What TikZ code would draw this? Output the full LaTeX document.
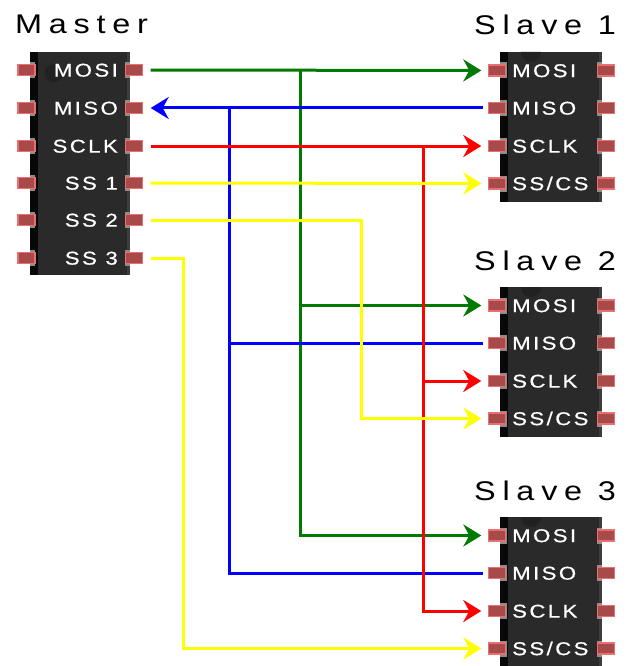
\documentclass[tikz,border=0pt]{standalone}
\usepackage{fontspec}
\setmainfont{Liberation Sans}
\newfontfamily\titlefont[FakeStretch=1.2, LetterSpace=25]{Liberation Sans}
\newfontfamily\pinfont[FakeStretch=1.2, FakeBold=0.6, LetterSpace=13]{Liberation Sans}
\usetikzlibrary{arrows.meta,positioning,calc}

\definecolor{chipbody}{RGB}{42,42,42}
\definecolor{chipedge}{RGB}{8,8,8}
\definecolor{chipshine}{RGB}{60,60,60}
\definecolor{chipnotch}{RGB}{33,33,33}
\definecolor{padfill}{RGB}{168,74,74}
\definecolor{padrim}{RGB}{232,112,112}
\definecolor{pinleg}{RGB}{140,140,140}
\definecolor{wiregreen}{RGB}{0,122,0}
\definecolor{wireblue}{RGB}{0,0,255}
\definecolor{wirered}{RGB}{255,0,0}
\definecolor{wireyellow}{RGB}{255,255,0}

\tikzset{
  pad/.style={draw=padrim, fill=padfill, line width=1.4pt, minimum width=17pt,
    minimum height=11pt, inner sep=0pt},
  pinlabel/.style={text=white, inner sep=0pt, font=\pinfont\fontsize{18.5}{20}\selectfont},
  title/.style={inner sep=0pt, font=\titlefont\fontsize{27}{32}\selectfont},
  wire/.style={line width=3pt, shorten <=7.5pt, shorten >=6.5pt,
    >={Stealth[length=18pt,width=22pt,inset=6pt]}},
}

\newcommand{\drawic}[4]{
  % chip body: #1 left, #2 top, #3 right, #4 bottom
  \fill[chipbody] (#1,#2) rectangle (#3,#4);
  \fill[chipedge] (#1,#2) rectangle ({#1+8},#4);
  \fill[chipshine] ({#3-3},#2) rectangle (#3,#4);
}
\newcommand{\drawslave}[3]{
  % slave chip: #1 name, #2 top y, #3 title
  \drawic{500}{#2}{602}{#2+150}
  \fill[chipnotch] (521,#2) arc[start angle=180, end angle=0, radius=10];
  \node[title, anchor=base west] (#1-title) at (474,{#2-17}) {#3};
  \foreach \dy/\pin/\txt in {18.5/mosi/MOSI, 56/miso/MISO, 94/sclk/SCLK, 131.5/sscs/{SS/CS}} {
    \fill[pinleg] (500,{#2+\dy-8}) rectangle (507,{#2+\dy+8});
    \fill[pinleg] (597,{#2+\dy-8}) rectangle (602,{#2+\dy+8});
    \node[pad] (#1-\pin) at (497,{#2+\dy}) {};
    \node[pad] (#1-\pin-r) at (606,{#2+\dy}) {};
    \node[pinlabel, anchor=base west] (#1-\pin-txt) at (512,{#2+\dy+6.6}) {\txt};
  }
}

\begin{document}
\begin{tikzpicture}[x=1pt, y=-1pt]
  \useasboundingbox (0,0) rectangle (627,666);
  \clip (0,0) rectangle (627,666);

  % master chip
  \drawic{30}{52}{130}{275}
  \fill[chipnotch] (54,73) circle (9);
  \node[title, anchor=base west] (master-title) at (15,34) {Master};
  \foreach \y/\pin/\txt in {70/mosi/MOSI, 108/miso/MISO, 146/sclk/SCLK, 183/ssa/SS 1, 220/ssb/SS 2, 258/ssc/SS 3} {
    \fill[pinleg] (30,\y-8) rectangle (35,\y+8);
    \fill[pinleg] (125,\y-8) rectangle (130,\y+8);
    \node[pad] (m-\pin-l) at (26.5,\y) {};
    \node[pad] (m-\pin) at (134,\y) {};
    \node[pinlabel, anchor=base east] (m-\pin-txt) at (118,{\y+6.6}) {\txt};
  }

  % slave chips
  \drawslave{s1}{52}{Slave 1}
  \drawslave{s2}{287}{Slave 2}
  \drawslave{s3}{517}{Slave 3}

  % bus corners
  \coordinate (mosi-bus) at (300,70);
  \coordinate (miso-bus) at (229,108);
  \coordinate (sclk-bus) at (423,146);
  \coordinate (ssb-turn) at (361,220);
  \coordinate (ssc-turn) at (183,258);

  % MOSI
  \draw[wire, wiregreen, ->] (m-mosi.east) -- (s1-mosi.west);
  \draw[wire, wiregreen, ->, shorten <=0pt] (mosi-bus) |- (s2-mosi.west);
  \draw[wire, wiregreen, ->, shorten <=0pt] (mosi-bus) |- (s3-mosi.west);
  % MISO
  \draw[wire, wireblue, <-, shorten >=4.5pt] (m-miso.east) -- (s1-miso.west);
  \draw[wire, wireblue, shorten <=0pt, shorten >=4.5pt] (miso-bus) |- (s2-miso.west);
  \draw[wire, wireblue, shorten <=0pt, shorten >=4.5pt] (miso-bus) |- (s3-miso.west);
  % SCLK
  \draw[wire, wirered, ->] (m-sclk.east) -- (s1-sclk.west);
  \draw[wire, wirered, ->, shorten <=0pt] (sclk-bus) |- (s2-sclk.west);
  \draw[wire, wirered, ->, shorten <=0pt] (sclk-bus) |- (s3-sclk.west);
  % slave selects
  \draw[wire, wireyellow, ->] (m-ssa.east) -- (s1-sscs.west);
  \draw[wire, wireyellow, ->] (m-ssb.east) -- (ssb-turn) |- (s2-sscs.west);
  \draw[wire, wireyellow, ->] (m-ssc.east) -- (ssc-turn) |- (s3-sscs.west);
\end{tikzpicture}
\end{document}
